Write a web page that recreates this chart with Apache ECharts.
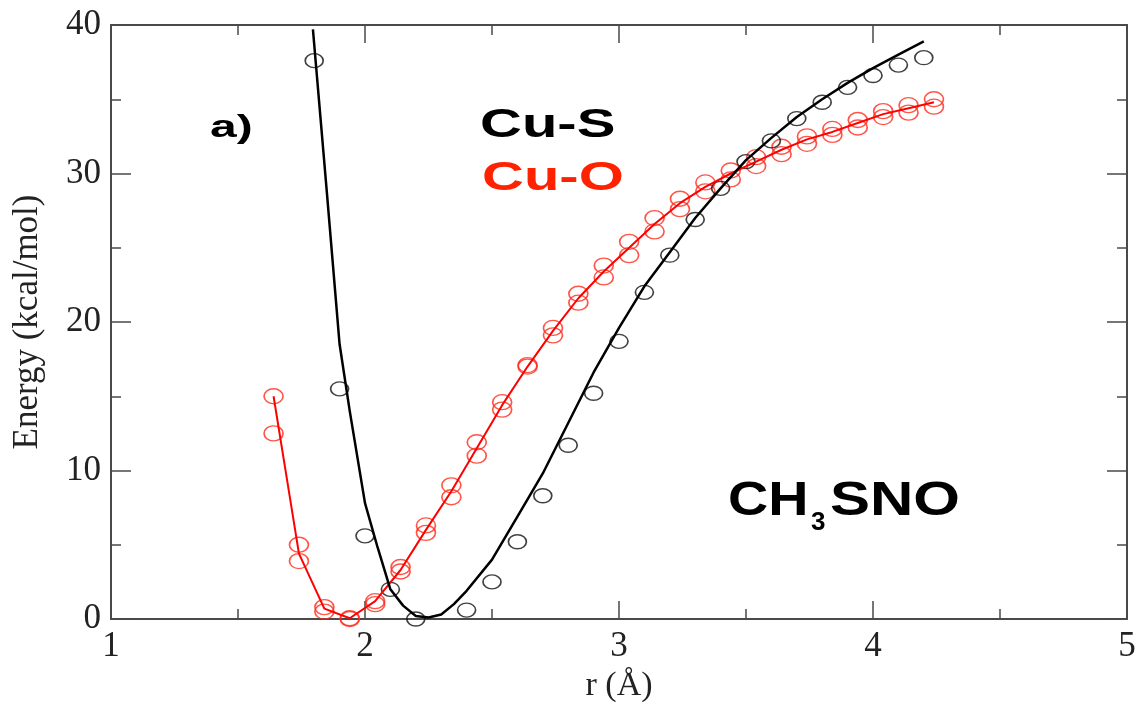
<!DOCTYPE html>
<html>
<head>
<meta charset="utf-8">
<script src="https://cdn.jsdelivr.net/npm/echarts@6/dist/echarts.min.js"></script>
<style>
html,body{margin:0;padding:0;background:#fff;}
#chart{width:1141px;height:708px;}
</style>
</head>
<body>
<div id="chart"></div>
<script>
// Cu-S computed points (black circles)
var cuSX = [1.8, 1.9, 2.0, 2.1, 2.2, 2.4, 2.5, 2.6, 2.7, 2.8, 2.9, 3.0, 3.1, 3.2, 3.3, 3.4, 3.5, 3.6, 3.7, 3.8, 3.9, 4.0, 4.1, 4.2];
var cuSY = [37.6, 15.5, 5.6, 2.0, 0.0, 0.6, 2.5, 5.2, 8.3, 11.7, 15.2, 18.7, 22.0, 24.5, 26.9, 29.0, 30.8, 32.2, 33.7, 34.8, 35.8, 36.6, 37.3, 37.8];
// Cu-S fitted curve (black line)
var cuSFitX = [1.795, 1.85, 1.9, 1.94, 2.0, 2.05, 2.1, 2.15, 2.2, 2.25, 2.3, 2.35, 2.4, 2.5, 2.6, 2.7, 2.8, 2.9, 3.0, 3.1, 3.2, 3.3, 3.4, 3.5, 3.6, 3.7, 3.8, 3.9, 4.0, 4.1, 4.2];
var cuSFitY = [39.7, 28.7, 18.5, 14.0, 7.8, 4.8, 2.0, 0.9, 0.2, 0.1, 0.3, 1.0, 1.9, 4.0, 6.9, 9.8, 13.2, 16.6, 19.6, 22.4, 24.7, 27.0, 29.0, 30.9, 32.4, 33.8, 35.0, 36.1, 37.1, 38.0, 38.9];
// Cu-O computed points (red circles, two sets)
var cuOX = [1.64, 1.74, 1.84, 1.94, 2.04, 2.14, 2.24, 2.34, 2.44, 2.54, 2.64, 2.74, 2.84, 2.94, 3.04, 3.14, 3.24, 3.34, 3.44, 3.54, 3.64, 3.74, 3.84, 3.94, 4.04, 4.14, 4.24];
var cuOYa = [15.0, 5.0, 0.8, 0.05, 1.2, 3.5, 6.3, 9.0, 11.9, 14.6, 17.1, 19.6, 21.9, 23.8, 25.4, 27.0, 28.3, 29.4, 30.2, 31.1, 31.8, 32.5, 33.0, 33.6, 34.2, 34.6, 35.0];
var cuOYb = [12.5, 3.9, 0.5, 0.0, 1.0, 3.2, 5.8, 8.2, 11.0, 14.1, 17.0, 19.1, 21.3, 23.0, 24.5, 26.1, 27.6, 28.8, 29.6, 30.5, 31.3, 32.0, 32.6, 33.1, 33.8, 34.1, 34.5];
// Cu-O curve (red line)
var cuOLineY = [15.0, 4.4, 0.7, 0.05, 1.2, 3.3, 6.0, 8.6, 11.5, 14.4, 17.0, 19.4, 21.6, 23.4, 25.0, 26.6, 28.0, 29.1, 30.0, 30.8, 31.6, 32.3, 32.8, 33.4, 34.0, 34.4, 34.8];
var xTicks = [1, 2, 3, 4, 5];
var yTicks = [0, 10, 20, 30, 40];

function pairs(xs, ys) { return xs.map(function (x, i) { return [x, ys[i]]; }); }

var axisColor = '#4a4a4a';
var serif = "'Liberation Serif', 'DejaVu Serif', serif";
var sans = "'Liberation Sans', Arial, sans-serif";

function xAx(pos, showLabel) {
  return {
    type: 'value', position: pos, min: xTicks[0], max: xTicks[xTicks.length - 1], interval: 1,
    axisLine: { show: true, onZero: false, lineStyle: { color: axisColor, width: 2 } },
    axisTick: { show: true, inside: true, length: 18, lineStyle: { color: axisColor, width: 1.5 } },
    minorTick: { show: true, splitNumber: 2, length: 10, lineStyle: { color: axisColor, width: 1.5 } },
    splitLine: { show: false },
    axisLabel: { show: showLabel, fontFamily: serif, fontSize: 35, color: '#222', margin: 10 },
    name: showLabel ? 'r (Å)' : '', nameLocation: 'middle', nameGap: 50,
    nameTextStyle: { fontFamily: serif, fontSize: 34, color: '#222' }
  };
}
function yAx(pos, showLabel) {
  return {
    type: 'value', position: pos, min: yTicks[0], max: yTicks[yTicks.length - 1], interval: 10,
    axisLine: { show: true, onZero: false, lineStyle: { color: axisColor, width: 2 } },
    axisTick: { show: true, inside: true, length: 20, lineStyle: { color: axisColor, width: 1.5 } },
    minorTick: { show: true, splitNumber: 2, length: 10, lineStyle: { color: axisColor, width: 1.5 } },
    splitLine: { show: false },
    axisLabel: { show: showLabel, fontFamily: serif, fontSize: 35, color: '#222', margin: 10 },
    name: showLabel ? 'Energy (kcal/mol)' : '', nameLocation: 'middle', nameGap: 66, nameRotate: 90,
    nameTextStyle: { fontFamily: serif, fontSize: 35, color: '#222' }
  };
}

var chart = echarts.init(document.getElementById('chart'), null, { renderer: 'canvas' });
chart.setOption({
  animation: false,
  backgroundColor: '#fff',
  grid: { left: 111, right: 14, top: 25, bottom: 85 },
  xAxis: [xAx('bottom', true), xAx('top', false)],
  yAxis: [yAx('left', true), yAx('right', false)],
  series: [
    { type: 'scatter', xAxisIndex: 0, yAxisIndex: 0, data: pairs(cuOX, cuOYa), symbol: 'circle', symbolSize: [19, 15],
      itemStyle: { color: 'rgba(0,0,0,0)', borderColor: '#ff2a1a', borderWidth: 1.5 }, z: 2 },
    { type: 'scatter', xAxisIndex: 0, yAxisIndex: 0, data: pairs(cuOX, cuOYb), symbol: 'circle', symbolSize: [19, 15],
      itemStyle: { color: 'rgba(0,0,0,0)', borderColor: '#ff2a1a', borderWidth: 1.5 }, z: 2 },
    { type: 'line', xAxisIndex: 0, yAxisIndex: 0, data: pairs(cuOX, cuOLineY), showSymbol: false, symbol: 'none',
      lineStyle: { color: '#ff0000', width: 2 }, z: 3 },
    { type: 'scatter', xAxisIndex: 0, yAxisIndex: 0, data: pairs(cuSX, cuSY), symbol: 'circle', symbolSize: [18, 14],
      itemStyle: { color: 'rgba(0,0,0,0)', borderColor: '#111', borderWidth: 1.5 }, z: 2 },
    { type: 'line', xAxisIndex: 0, yAxisIndex: 0, data: pairs(cuSFitX, cuSFitY), showSymbol: false, symbol: 'none',
      lineStyle: { color: '#000', width: 2.5 }, z: 3 }
  ],
  graphic: [
    { type: 'text', x: 210, y: 128, scaleX: 1.5, style: { text: 'a)', font: 'bold 32px ' + sans, fill: '#000', verticalAlign: 'middle', align: 'left' } },
    { type: 'text', x: 480, y: 126, scaleX: 1.45, style: { text: 'Cu-S', font: 'bold 40px ' + sans, fill: '#000', verticalAlign: 'middle', align: 'left' } },
    { type: 'text', x: 482, y: 179, scaleX: 1.45, style: { text: 'Cu-O', font: 'bold 40px ' + sans, fill: '#ff2200', verticalAlign: 'middle', align: 'left' } },
    { type: 'text', x: 728, y: 502, scaleX: 1.16, style: { text: 'CH', font: 'bold 48px ' + sans, fill: '#000', verticalAlign: 'middle', align: 'left' } },
    { type: 'text', x: 811, y: 523, scaleX: 1.0, style: { text: '3', font: 'bold 26px ' + sans, fill: '#000', verticalAlign: 'middle', align: 'left' } },
    { type: 'text', x: 830, y: 502, scaleX: 1.25, style: { text: 'SNO', font: 'bold 48px ' + sans, fill: '#000', verticalAlign: 'middle', align: 'left' } }
  ]
});
</script>
</body>
</html>
